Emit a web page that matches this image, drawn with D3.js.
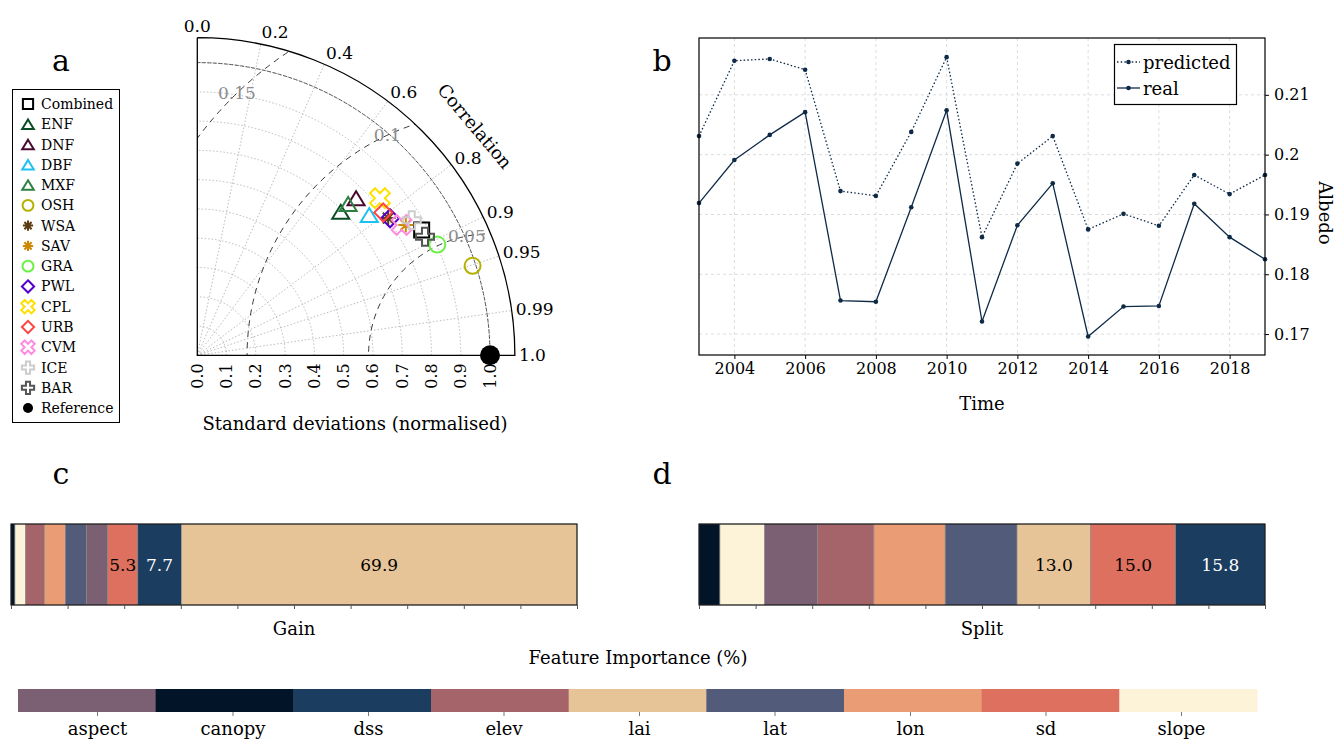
<!DOCTYPE html>
<html>
<head>
<meta charset="utf-8">
<script src="https://cdn.jsdelivr.net/npm/d3@7"></script>
<style>
  body { margin: 0; background: #fff; }
  svg { font-family: "DejaVu Serif", serif; }
</style>
</head>
<body>
<div id="chart"></div>
<script>
// ---- taylor diagram (panel a) ----
var landCovers = ["Combined","ENF","DNF","DBF","MXF","OSH","WSA","SAV","GRA","PWL","CPL","URB","CVM","ICE","BAR"];
var stdNorm  = [0.878,0.693,0.763,0.758,0.730,0.989,0.803,0.840,0.903,0.808,0.823,0.801,0.828,0.866,0.877];
var corrVals = [0.873,0.707,0.711,0.775,0.706,0.951,0.812,0.848,0.908,0.815,0.758,0.793,0.843,0.846,0.887];
var coverColors = ["#000000","#0b4d24","#4a0a30","#1ec0f0","#2e8040","#b5b000","#5a3a10","#cc8800","#6cf046","#5500cc","#ffe000","#ff4444","#ff8ce0","#cccccc","#555555"];
var coverShapes = ["square","tri","tri","tri","tri","circle","star","star","circle","diamond","x","diamond","x","plus","plus"];
var corrTicks = [0.0,0.2,0.4,0.6,0.8,0.9,0.95,0.99,1.0];
var corrGrid  = [0.2,0.4,0.6,0.8,0.9,0.95,0.99];
var stdTicks  = [0.0,0.1,0.2,0.3,0.4,0.5,0.6,0.7,0.8,0.9,1.0];
var rmsLevels = [0.05,0.1,0.15];
var rmsLabelAngles = [101,115,134];
var refStd = 0.1205;   // std of reference, used to normalise the rms contours
var stdMax = 1.085;

// ---- albedo time series (panel b) ----
var years = [2003,2004,2005,2006,2007,2008,2009,2010,2011,2012,2013,2014,2015,2016,2017,2018,2019];
var predicted = [0.2031,0.2157,0.2160,0.2142,0.1939,0.1931,0.2038,0.2163,0.1862,0.1985,0.2031,0.1875,0.1901,0.1881,0.1966,0.1934,0.1966];
var real      = [0.1919,0.1991,0.2033,0.2071,0.1756,0.1754,0.1912,0.2074,0.1721,0.1882,0.1952,0.1696,0.1746,0.1747,0.1918,0.1862,0.1825];
var yearTicks = [2004,2006,2008,2010,2012,2014,2016,2018];
var albedoTicks = [0.17,0.18,0.19,0.20,0.21];

// ---- feature importance (panels c, d) ----
var features = ["aspect","canopy","dss","elev","lai","lat","lon","sd","slope"];
var featureColors = ["#7a6072","#021427","#1b3d5f","#a56469","#e6c498","#525b79","#ea9c75","#dd705e","#fcf3d9"];
var gainOrder  = ["canopy","slope","elev","lon","lat","aspect","sd","dss","lai"];
var gainValues = [0.7,1.9,3.3,3.7,3.7,3.8,5.3,7.7,69.9];
var splitOrder  = ["canopy","slope","aspect","elev","lon","lat","lai","sd","dss"];
var splitValues = [3.7,7.9,9.3,10.0,12.6,12.7,13.0,15.0,15.8];

var colorOf = d3.scaleOrdinal().domain(features).range(featureColors);

var svg = d3.select("#chart").append("svg")
    .attr("width", 1337)
    .attr("height", 741);

// panel letters
[["a",61,60],["b",662,60],["c",61,473],["d",662,473]].forEach(function(p){
  svg.append("text").attr("x", p[1]).attr("y", p[2])
    .attr("text-anchor","middle").attr("dominant-baseline","central")
    .attr("font-size", 30).text(p[0]);
});

// ================= panel a =================
var ox = 197.3, oy = 355.3;
var rs = d3.scaleLinear().domain([0,1]).range([0,292.7]);
var R = rs(stdMax);

function tPos(s, c) {
  var th = Math.acos(c);
  return [ox + rs(s)*Math.cos(th), oy - rs(s)*Math.sin(th)];
}

var ta = svg.append("g");

ta.append("clipPath").attr("id","quad")
  .append("path")
  .attr("d", `M${ox},${oy}L${ox+R},${oy}A${R},${R} 0 0 0 ${ox},${oy-R}Z`);

// std grid arcs
stdTicks.filter(d => d > 0).forEach(function(s){
  var r = rs(s);
  ta.append("path")
    .attr("d", `M${ox+r},${oy}A${r},${r} 0 0 0 ${ox},${oy-r}`)
    .attr("fill","none").attr("stroke","#aaa").attr("stroke-width",0.8)
    .attr("stroke-dasharray","1.5,2");
});
// correlation grid lines
corrGrid.forEach(function(c){
  var p = tPos(stdMax, c);
  ta.append("line").attr("x1",ox).attr("y1",oy).attr("x2",p[0]).attr("y2",p[1])
    .attr("stroke","#aaa").attr("stroke-width",0.8).attr("stroke-dasharray","1.5,2");
});
// reference std arc
var r1 = rs(1);
ta.append("path")
  .attr("d", `M${ox+r1},${oy}A${r1},${r1} 0 0 0 ${ox},${oy-r1}`)
  .attr("fill","none").attr("stroke","#333").attr("stroke-width",0.8)
  .attr("stroke-dasharray","4,1.5");

// rms contours
var ref = tPos(1,1);
rmsLevels.forEach(function(lv, i){
  var rr = rs(lv/refStd);
  ta.append("circle").attr("cx",ref[0]).attr("cy",ref[1]).attr("r",rr)
    .attr("clip-path","url(#quad)")
    .attr("fill","none").attr("stroke","#222").attr("stroke-width",0.9)
    .attr("stroke-dasharray","6,5");
  var a = rmsLabelAngles[i]*Math.PI/180;
  ta.append("text")
    .attr("x", ref[0] + rr*Math.cos(a)).attr("y", ref[1] - rr*Math.sin(a))
    .attr("text-anchor","middle").attr("dominant-baseline","central")
    .attr("font-size",17).attr("fill","#8c8c8c").text(lv);
});

// frame
ta.append("path")
  .attr("d", `M${ox},${oy-R}L${ox},${oy}L${ox+R},${oy}A${R},${R} 0 0 0 ${ox},${oy-R}`)
  .attr("fill","none").attr("stroke","#000").attr("stroke-width",1.3);

// correlation tick labels
corrTicks.forEach(function(c){
  var th = Math.acos(c);
  ta.append("text")
    .attr("x", ox + (R+4)*Math.cos(th))
    .attr("y", oy - (R+4)*Math.sin(th) - 8*Math.sin(th))
    .attr("text-anchor", c === 0 ? "middle" : "start")
    .attr("dominant-baseline","central")
    .attr("font-size",17).text(c.toFixed(c === 0.95 || c === 0.99 ? 2 : 1));
});
ta.append("text")
  .attr("transform", "translate(475,126) rotate(50)")
  .attr("text-anchor","middle").attr("dominant-baseline","central")
  .attr("font-size",18).text("Correlation");

// std tick labels
stdTicks.forEach(function(s){
  ta.append("text")
    .attr("transform", `translate(${ox+rs(s)},${oy+8}) rotate(-90)`)
    .attr("text-anchor","end").attr("dominant-baseline","central")
    .attr("font-size",16).text(s.toFixed(1));
});
ta.append("text").attr("x",355).attr("y",423)
  .attr("text-anchor","middle").attr("dominant-baseline","central")
  .attr("font-size",18).text("Standard deviations (normalised)");

function markerPath(shape, k) {
  var s;
  switch (shape) {
    case "square": s = 7.5*k; return `M${-s},${-s}H${s}V${s}H${-s}Z`;
    case "tri": var w = 8.5*k, h = 7*k; return `M0,${-h}L${w},${h}L${-w},${h}Z`;
    case "diamond": s = 9*k; return `M0,${-s}L${s},0L0,${s}L${-s},0Z`;
    case "circle": s = 8*k; return `M${s},0A${s},${s} 0 1 1 ${-s},0A${s},${s} 0 1 1 ${s},0Z`;
    case "plus":
    case "x":
      s = (shape === "plus" ? 9 : 10.5)*k/3;
      var pts = [[-1,-3],[1,-3],[1,-1],[3,-1],[3,1],[1,1],[1,3],[-1,3],[-1,1],[-3,1],[-3,-1],[-1,-1]];
      var ang = shape === "x" ? Math.PI/4 : 0;
      return "M" + pts.map(function(p){
        var x = p[0]*s, y = p[1]*s;
        return [x*Math.cos(ang) - y*Math.sin(ang), x*Math.sin(ang) + y*Math.cos(ang)].join(",");
      }).join("L") + "Z";
    case "star":
      s = 7.5*k;
      return [0,45,90,135].map(function(d){
        var a = d*Math.PI/180;
        return `M${-s*Math.cos(a)},${-s*Math.sin(a)}L${s*Math.cos(a)},${s*Math.sin(a)}`;
      }).join("");
  }
}

// markers
landCovers.forEach(function(name, i){
  var p = tPos(stdNorm[i], corrVals[i]);
  ta.append("path")
    .attr("transform", `translate(${p[0]},${p[1]})`)
    .attr("d", markerPath(coverShapes[i], 1))
    .attr("fill","none").attr("stroke", coverColors[i])
    .attr("stroke-width", 2).attr("stroke-linejoin","miter");
});
ta.append("circle").attr("cx",ref[0]).attr("cy",ref[1]).attr("r",10).attr("fill","#000");

// legend
var lg = svg.append("g");
lg.append("rect").attr("x",12.5).attr("y",89.5).attr("width",107).attr("height",333)
  .attr("fill","#fff").attr("stroke","#000").attr("stroke-width",1);
landCovers.concat(["Reference"]).forEach(function(name, i){
  var yy = 104 + i*20.27;
  if (name === "Reference") {
    lg.append("circle").attr("cx",28).attr("cy",yy).attr("r",5).attr("fill","#000");
  } else {
    lg.append("path").attr("transform", `translate(28,${yy})`)
      .attr("d", markerPath(coverShapes[i], 0.68))
      .attr("fill","none").attr("stroke",coverColors[i]).attr("stroke-width",2);
  }
  lg.append("text").attr("x",41).attr("y",yy)
    .attr("dominant-baseline","central").attr("font-size",14).text(name);
});

// ================= panel b =================
var xb = d3.scaleLinear().domain([2003,2019]).range([699,1265]);
var yb = d3.scaleLinear().domain([0.1665,0.2195]).range([355,38]);
var gb = svg.append("g");

gb.selectAll(".vg").data(yearTicks).enter().append("line")
  .attr("x1", d => xb(d)).attr("x2", d => xb(d)).attr("y1",38).attr("y2",355)
  .attr("stroke","#d3d3d3").attr("stroke-width",0.8).attr("stroke-dasharray","3,3");
gb.selectAll(".hg").data(albedoTicks).enter().append("line")
  .attr("x1",699).attr("x2",1265).attr("y1", d => yb(d)).attr("y2", d => yb(d))
  .attr("stroke","#d3d3d3").attr("stroke-width",0.8).attr("stroke-dasharray","3,3");

var xAxis = d3.axisBottom(xb).tickValues(yearTicks).tickFormat(d3.format("d")).tickSize(4).tickPadding(4);
var yAxis = d3.axisRight(yb).tickValues(albedoTicks).tickFormat(d => String(+d.toFixed(2))).tickSize(4).tickPadding(5);
gb.append("g").attr("transform","translate(0,355)").call(xAxis)
  .call(g => g.select(".domain").remove())
  .selectAll("text").attr("font-size",16).attr("font-family","DejaVu Serif");
gb.append("g").attr("transform","translate(1265,0)").call(yAxis)
  .call(g => g.select(".domain").remove())
  .selectAll("text").attr("font-size",16).attr("font-family","DejaVu Serif");

var lineColor = "#0e2a47";
var line = d3.line().x((d,i) => xb(years[i])).y(d => yb(d));
gb.append("path").datum(predicted).attr("d", line)
  .attr("fill","none").attr("stroke",lineColor).attr("stroke-width",1.3).attr("stroke-dasharray","1.5,2.2");
gb.append("path").datum(real).attr("d", line)
  .attr("fill","none").attr("stroke",lineColor).attr("stroke-width",1.3);
[predicted, real].forEach(function(series){
  gb.selectAll(null).data(series).enter().append("circle")
    .attr("cx", (d,i) => xb(years[i])).attr("cy", d => yb(d))
    .attr("r", 2.3).attr("fill", lineColor);
});

gb.append("rect").attr("x",699).attr("y",38).attr("width",566).attr("height",317)
  .attr("fill","none").attr("stroke","#000").attr("stroke-width",1.2);

gb.append("text").attr("x",982).attr("y",403)
  .attr("text-anchor","middle").attr("dominant-baseline","central")
  .attr("font-size",18).text("Time");
gb.append("text").attr("transform","translate(1325,213) rotate(90)")
  .attr("text-anchor","middle").attr("dominant-baseline","central")
  .attr("font-size",18).text("Albedo");

// legend b
gb.append("rect").attr("x",1114.5).attr("y",44.5).attr("width",122).attr("height",60)
  .attr("fill","#fff").attr("stroke","#000").attr("stroke-width",1.2);
[["predicted","1.5,2.2",62],["real",null,88]].forEach(function(e){
  gb.append("line").attr("x1",1117).attr("x2",1140).attr("y1",e[2]).attr("y2",e[2])
    .attr("stroke",lineColor).attr("stroke-width",1.3).attr("stroke-dasharray",e[1]);
  gb.append("circle").attr("cx",1128.5).attr("cy",e[2]).attr("r",2.3).attr("fill",lineColor);
  gb.append("text").attr("x",1143).attr("y",e[2]).attr("dominant-baseline","central")
    .attr("font-size",18).text(e[0]);
});

// ================= panels c, d =================
function stackedBar(order, values, x0, x1, label) {
  var xs = d3.scaleLinear().domain([0,100]).range([x0,x1]);
  var g = svg.append("g");
  var cum = 0;
  var segs = order.map(function(f, i){
    var s = {f: f, v: values[i], a: cum, b: cum + values[i]};
    cum += values[i];
    return s;
  });
  // only the three largest shares get a label
  var cut = values.slice().sort((a,b) => b - a)[2];
  g.selectAll("rect.seg").data(segs).enter().append("rect")
    .attr("x", d => xs(d.a)).attr("width", d => xs(d.b) - xs(d.a))
    .attr("y",524).attr("height",81)
    .attr("fill", d => colorOf(d.f)).attr("stroke","#8a8a8a").attr("stroke-width",0.6);
  g.selectAll("text.lab").data(segs.filter(d => d.v >= cut)).enter().append("text")
    .attr("x", d => (xs(d.a) + xs(d.b))/2).attr("y",564.5)
    .attr("text-anchor","middle").attr("dominant-baseline","central")
    .attr("font-size",17)
    .attr("fill", d => d3.hsl(colorOf(d.f)).l < 0.4 ? "#fff" : "#000")
    .text(d => d.v.toFixed(1));
  g.append("rect").attr("x",x0).attr("y",524).attr("width",x1-x0).attr("height",81)
    .attr("fill","none").attr("stroke","#000").attr("stroke-width",1);
  g.append("g").attr("transform","translate(0,605)")
    .call(d3.axisBottom(xs).tickValues(d3.range(0,101,10)).tickFormat("").tickSize(4))
    .call(g => g.select(".domain").remove())
    .selectAll("line").attr("stroke","#555");
  g.append("text").attr("x",(x0+x1)/2).attr("y",628)
    .attr("text-anchor","middle").attr("dominant-baseline","central")
    .attr("font-size",18).text(label);
}
stackedBar(gainOrder, gainValues, 11, 577, "Gain");
stackedBar(splitOrder, splitValues, 699, 1265, "Split");

svg.append("text").attr("x",638).attr("y",657)
  .attr("text-anchor","middle").attr("dominant-baseline","central")
  .attr("font-size",18).text("Feature Importance (%)");

// colour key
var xk = d3.scaleBand().domain(features).range([18,1257]);
var xkt = d3.scalePoint().domain(features).range([97,1181]);
var gk = svg.append("g");
gk.selectAll("rect").data(features).enter().append("rect")
  .attr("x", d => xk(d)).attr("width", xk.bandwidth() + 0.5)
  .attr("y",689).attr("height",23).attr("fill", d => colorOf(d));
gk.append("g").attr("transform","translate(0,712)")
  .call(d3.axisBottom(xkt).tickSize(4).tickPadding(6))
  .call(g => g.select(".domain").remove())
  .call(g => g.selectAll("line").attr("stroke","#777"))
  .selectAll("text").attr("font-size",18).attr("font-family","DejaVu Serif").attr("fill","#000");
</script>
</body>
</html>
